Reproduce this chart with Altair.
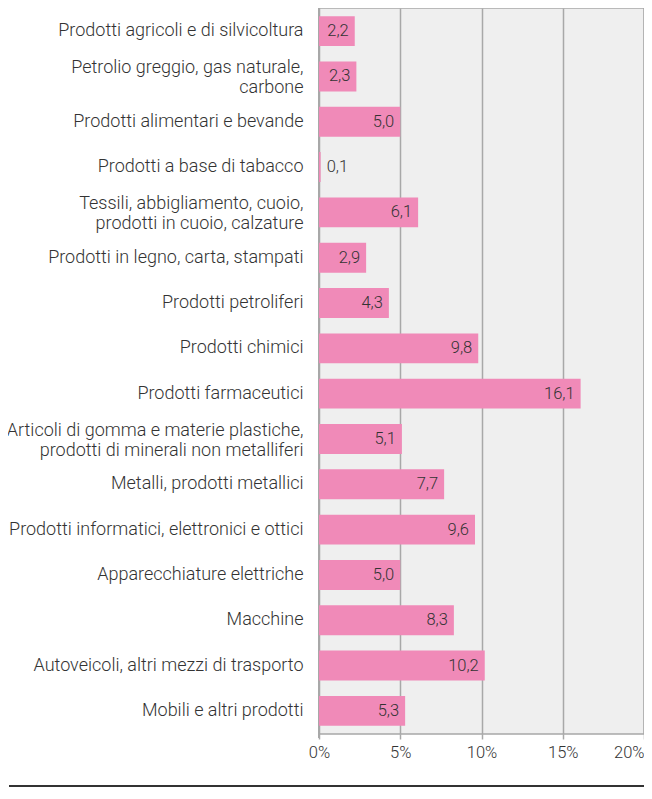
import altair as alt
import pandas as pd

categories = [
    "Prodotti agricoli e di silvicoltura",
    "Petrolio greggio, gas naturale,|carbone",
    "Prodotti alimentari e bevande",
    "Prodotti a base di tabacco",
    "Tessili, abbigliamento, cuoio,|prodotti in cuoio, calzature",
    "Prodotti in legno, carta, stampati",
    "Prodotti petroliferi",
    "Prodotti chimici",
    "Prodotti farmaceutici",
    "Articoli di gomma e materie plastiche,|prodotti di minerali non metalliferi",
    "Metalli, prodotti metallici",
    "Prodotti informatici, elettronici e ottici",
    "Apparecchiature elettriche",
    "Macchine",
    "Autoveicoli, altri mezzi di trasporto",
    "Mobili e altri prodotti",
]
values = [2.2, 2.3, 5.0, 0.1, 6.1, 2.9, 4.3, 9.8, 16.1, 5.1, 7.7, 9.6, 5.0, 8.3, 10.2, 5.3]
x_ticks = [0, 5, 10, 15, 20]

df = pd.DataFrame({"cat": categories, "v": values})

FONT = "Roboto"
FS_CAT = 18
FS = 16.5
TXT = "#333333"
GRID = "#a8a8a8"
PINK = "#f08ab8"

W, H = 325, 726

y_enc = alt.Y(
    "cat:N",
    sort=categories,
    title=None,
    scale=alt.Scale(paddingInner=0.34, paddingOuter=0.18),
    axis=alt.Axis(
        labelExpr="split(datum.label, '|')",
        ticks=False,
        domain=False,
        labelPadding=16,
        labelFontSize=FS_CAT,
        labelFont=FONT,
        labelFontWeight=300,
        labelColor=TXT,
        labelLineHeight=20,
        labelLimit=400,
        labelOffset={"condition": {"test": "indexof(datum.label, '|') >= 0", "value": -8}, "value": 0},
    ),
)

x_enc = alt.X(
    "v:Q",
    title=None,
    scale=alt.Scale(domain=[0, 20], nice=False),
    axis=alt.Axis(
        values=x_ticks,
        labelExpr="datum.value + '%'",
        grid=True,
        gridColor=GRID,
        gridWidth=1.5,
        domain=False,
        tickColor=GRID,
        tickWidth=1.5,
        tickSize=5,
        labelPadding=5,
        labelFontSize=FS,
        labelFont=FONT,
        labelFontWeight=300,
        labelColor=TXT,
        labelFlush=False,
        labelAlign={"condition": {"test": "datum.value == 20", "value": "right"}, "value": "center"},
    ),
)

base = alt.Chart(df).transform_calculate(
    lab="replace(format(datum.v, '.1f'), '.', ',')"
)

bars = base.mark_bar(color=PINK).encode(x=x_enc, y=y_enc)

text_in = base.transform_filter("datum.v >= 1").mark_text(
    align="right", dx=-6, font=FONT, fontSize=FS, fontWeight=300, color=TXT
).encode(x="v:Q", y=alt.Y("cat:N", sort=categories), text="lab:N")

text_out = base.transform_filter("datum.v < 1").mark_text(
    align="left", dx=6, font=FONT, fontSize=FS, fontWeight=300, color=TXT
).encode(x="v:Q", y=alt.Y("cat:N", sort=categories), text="lab:N")

left_rule = alt.Chart(df).mark_rule(color=GRID, strokeWidth=1.5).encode(
    x=alt.value(0), y=alt.value(0), y2=alt.value(H + 4)
)

bottom_rule = alt.Chart(df).mark_rule(color="#333333", strokeWidth=1.5).encode(
    x=alt.value(-310), x2=alt.value(W), y=alt.value(778)
)

chart = (
    alt.layer(left_rule, bars, text_in, text_out, bottom_rule)
    .properties(
        width=W,
        height=H,
        autosize=alt.AutoSizeParams(type="none"),
        padding={"left": 311, "top": 0, "right": 0, "bottom": 54},
    )
    .configure_view(fill="#efefef", stroke=GRID, strokeWidth=1.5)
)

chart.save("out.html", embed_options={"renderer": "svg", "actions": False})
